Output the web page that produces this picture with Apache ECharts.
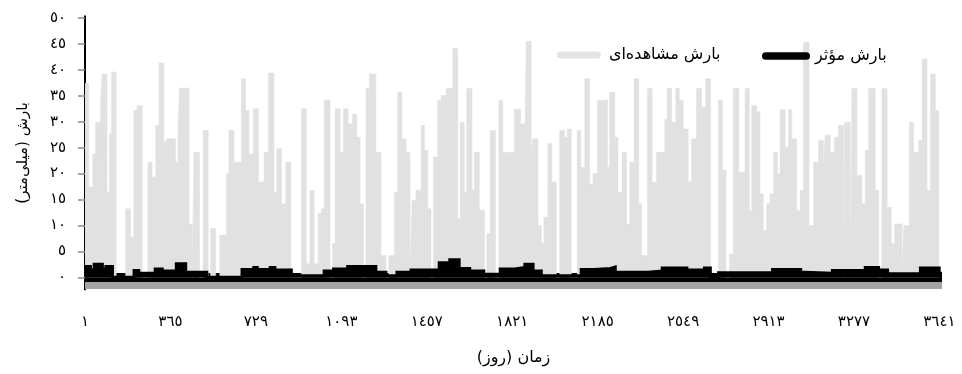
<!DOCTYPE html>
<html>
<head>
<meta charset="utf-8">
<script src="https://cdn.jsdelivr.net/npm/echarts@6/dist/echarts.min.js"></script>
<style>
  html, body { margin: 0; padding: 0; background: #fff; }
  #chart { width: 962px; height: 374px; }
</style>
</head>
<body>
<div id="chart"></div>
<script>
// Daily rainfall series, given as [start day, mm] steps held until the next step.
const observedRain = [
  [1,37.4],[17,17.4],[34,23.8],[46,29.9],[67,33.8],[74,39.2],[95,16.4],[105,27.7],[114,39.6],[134,0],
  [174,13.2],[195,7.8],[209,32.2],[223,33.1],[245,0],[269,22.2],[287,19.3],[302,29.3],[316,41.3],[337,26.1],
  [347,26.7],[387,22.2],[397,29.6],[404,36.5],[444,10.3],[458,0],[465,24.1],[489,0],[504,28.3],[526,0],
  [536,9.4],[558,0],[575,8.1],[604,20.0],[614,28.3],[636,22.2],[667,38.3],[685,32.2],[700,23.8],[718,32.5],
  [740,18.4],[764,24.1],[782,39.4],[806,16.4],[818,24.8],[838,14.2],[856,22.2],[878,0],[923,32.5],[944,2.6],
  [959,16.8],[977,2.6],[994,12.3],[1008,13.2],[1020,34.2],[1045,0],[1055,6.5],[1067,32.5],[1088,24.1],[1102,32.5],
  [1122,29.6],[1141,31.5],[1159,27.0],[1173,14.2],[1188,0],[1198,36.4],[1212,39.2],[1240,24.1],[1262,4.2],[1283,0],
  [1295,4.2],[1319,16.4],[1333,35.7],[1351,26.7],[1369,24.1],[1386,0],[1394,14.8],[1411,16.8],[1433,29.3],[1447,24.5],
  [1461,13.2],[1475,0],[1485,23.2],[1504,34.1],[1518,35.1],[1539,36.4],[1568,44.1],[1589,11.3],[1599,29.9],[1617,16.4],
  [1627,36.4],[1650,16.8],[1660,24.1],[1681,13.0],[1703,0],[1713,8.5],[1727,28.3],[1750,0],[1764,34.1],[1781,24.1],
  [1830,32.4],[1857,29.6],[1874,25.0],[1881,45.5],[1902,24.1],[1909,26.7],[1931,10.0],[1945,6.5],[1956,11.6],[1973,25.8],
  [1990,18.4],[2009,0],[2023,28.3],[2044,27.0],[2056,28.6],[2073,0],[2098,28.3],[2113,21.2],[2130,38.3],[2151,18.0],
  [2165,20.0],[2184,34.1],[2204,34.2],[2227,21.2],[2236,35.7],[2258,27.0],[2272,16.4],[2289,24.1],[2308,10.3],[2322,22.2],
  [2340,38.3],[2360,14.2],[2372,4.2],[2397,36.4],[2417,18.4],[2436,24.1],[2471,30.5],[2481,36.4],[2500,29.9],[2518,36.4],
  [2533,34.1],[2550,28.6],[2571,18.4],[2585,26.7],[2606,36.4],[2628,32.8],[2646,38.3],[2666,0],[2699,34.2],[2717,20.7],
  [2732,0],[2746,4.5],[2763,36.4],[2786,20.3],[2813,36.4],[2831,12.9],[2841,33.1],[2863,31.9],[2877,16.1],[2891,9.0],
  [2905,14.2],[2919,16.1],[2934,24.1],[2951,20.0],[2962,32.3],[2984,25.1],[2998,32.3],[3012,26.7],[3033,12.9],[3048,16.8],
  [3062,45.3],[3086,10.0],[3105,22.2],[3126,26.4],[3147,21.3],[3154,27.4],[3176,24.1],[3194,27.0],[3211,29.3],[3233,0],
  [3237,29.9],[3261,0],[3268,36.4],[3290,19.7],[3311,14.2],[3325,24.5],[3339,36.4],[3368,16.8],[3382,0],[3396,36.4],
  [3418,13.5],[3436,6.5],[3450,10.3],[3482,0],[3489,10.0],[3513,29.9],[3531,24.1],[3553,26.4],[3567,42.1],[3588,16.8],
  [3603,39.2],[3624,32.2],[3638,0]
];

const effectiveRain = [
  [1,2.1],[24,1.4],[40,2.5],[75,1.6],[90,2.1],[118,0],[210,1.3],[230,0.8],[300,1.6],[330,1.2],
  [390,2.6],[430,1.0],[520,0],[670,1.5],[720,1.9],[735,1.5],[790,1.9],[810,1.4],[880,0.3],[1020,1.2],
  [1060,1.6],[1120,2.1],[1240,1.0],[1283,0.3],[1330,1.0],[1390,1.4],[1510,2.8],[1555,3.4],[1595,1.7],[1640,1.2],
  [1700,0.6],[1770,1.6],[1831,1.9],[1875,2.5],[1910,1.2],[1945,0.3],[2115,1.5],[2170,1.7],[2240,2.0],[2260,1.0],
  [2400,1.2],[2460,1.8],[2565,1.4],[2640,1.8],[2665,0],[2700,0.9],[2930,1.5],[3050,1.0],[3069,0.8],[3185,1.3],
  [3325,1.9],[3382,1.4],[3420,0.7],[3560,1.8],[3640,0.8],[3652,0.8]
];

const dayTicks = [1, 365, 729, 1093, 1457, 1821, 2185, 2549, 2913, 3277, 3641];
const mmTicks = [0, 5, 10, 15, 20, 25, 30, 35, 40, 45, 50];

const nameObserved = 'بارش مشاهده‌ای';
const nameEffective = 'بارش مؤثر';
const RLM = '\u200F';

// Arabic-Indic digits for all numeric labels
const toIndic = n => String(n).replace(/\d/g, d => '٠١٢٣٤٥٦٧٨٩'[+d]);

const FONT = "'DejaVu Sans', sans-serif";
const capsule = 'path://M4,0L46,0A4,4,0,0,1,46,8L4,8A4,4,0,0,1,4,0Z';

const chart = echarts.init(document.getElementById('chart'), null, { renderer: 'canvas' });
chart.setOption({
  animation: false,
  backgroundColor: '#ffffff',
  grid: { left: 85, right: 20, top: 15.4, bottom: 83.7, containLabel: false, outerBoundsMode: 'none' },
  legend: [
    {
      left: 552, top: 42, padding: 5,
      itemWidth: 50, itemHeight: 7,
      textStyle: { fontFamily: FONT, fontSize: 16, color: '#000' },
      data: [{ name: nameObserved, icon: capsule, itemStyle: { color: '#e3e3e3' } }]
    },
    {
      left: 757, top: 43, padding: 5,
      itemWidth: 48, itemHeight: 8,
      textStyle: { fontFamily: FONT, fontSize: 16, color: '#000' },
      data: [{ name: nameEffective, icon: capsule, itemStyle: { color: '#000' } }]
    }
  ],
  xAxis: {
    type: 'value',
    min: 1,
    max: 3652,
    name: 'زمان (روز)' + RLM,
    nameLocation: 'middle',
    nameGap: 60,
    nameTextStyle: { fontFamily: FONT, fontSize: 16, color: '#000' },
    axisLine: {
      onZero: true,
      lineStyle: { color: '#000', width: 9, cap: 'butt', shadowColor: '#a3a3a3', shadowOffsetY: 7, shadowBlur: 0 }
    },
    axisTick: { show: false },
    splitLine: { show: false },
    axisLabel: {
      customValues: dayTicks,
      margin: 24,
      fontFamily: FONT, fontSize: 15, color: '#000',
      formatter: v => toIndic(v)
    }
  },
  yAxis: {
    type: 'value',
    min: -2.5,
    max: 50.5,
    name: 'بارش (میلی‌متر)' + RLM,
    nameLocation: 'middle',
    nameRotate: 90,
    nameGap: 54,
    nameTextStyle: { fontFamily: FONT, fontSize: 15, color: '#000' },
    axisLine: { show: true, lineStyle: { color: '#000', width: 2, cap: 'butt' } },
    axisTick: { show: true, customValues: mmTicks, length: 7, lineStyle: { color: '#8a8a8a', width: 1.5 } },
    splitLine: { show: false },
    axisLabel: {
      customValues: mmTicks,
      margin: 19,
      fontFamily: FONT, fontSize: 15, color: '#000',
      formatter: v => toIndic(v)
    }
  },
  series: [
    {
      name: nameObserved,
      type: 'line',
      step: 'end',
      showSymbol: false,
      symbol: 'none',
      color: '#e3e3e3',
      lineStyle: { color: '#e1e1e1', width: 0.5 },
      areaStyle: { color: '#e1e1e1', opacity: 1 },
      data: observedRain,
      z: 2
    },
    {
      name: nameEffective,
      type: 'line',
      step: 'end',
      showSymbol: false,
      symbol: 'none',
      color: '#000',
      lineStyle: { color: '#000', width: 3, join: 'miter' },
      areaStyle: { color: '#000', opacity: 1 },
      data: effectiveRain,
      z: 3
    }
  ]
});
</script>
</body>
</html>
